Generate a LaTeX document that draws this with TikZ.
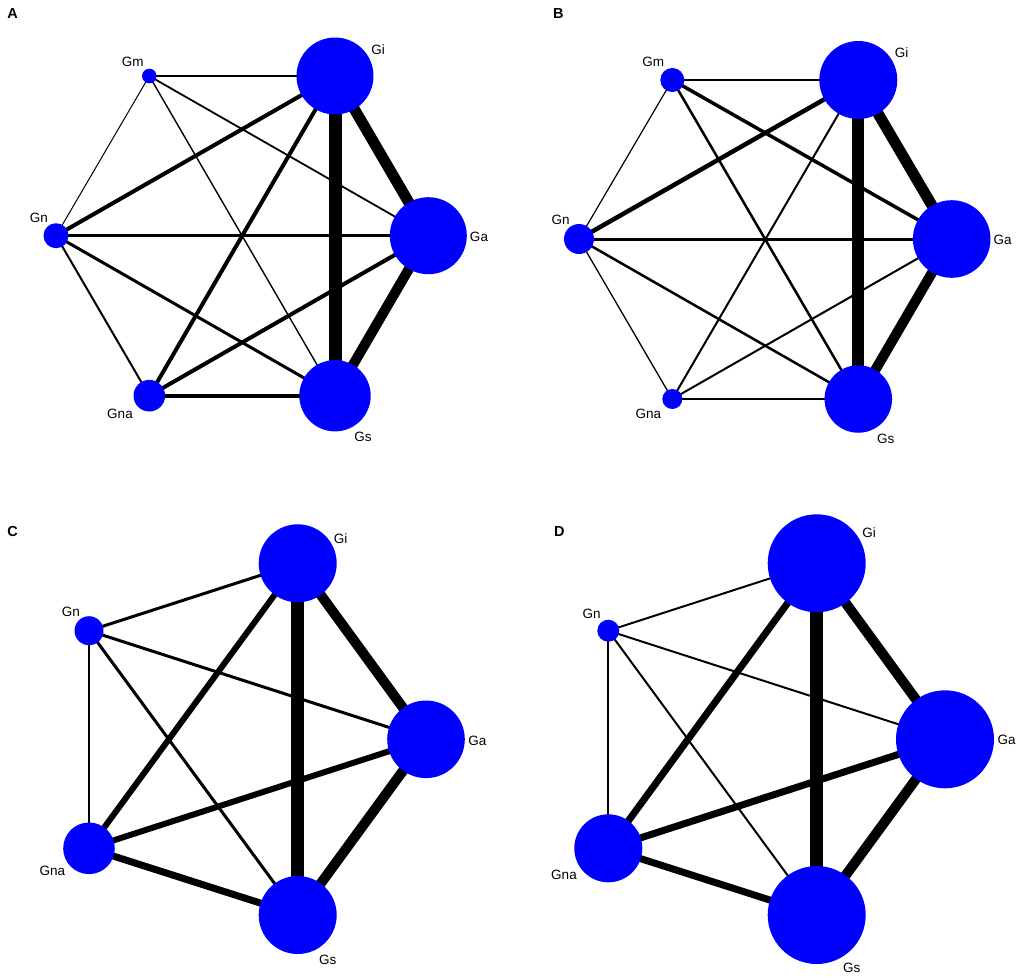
\documentclass[tikz,border=0pt]{standalone}
\usepackage{fontspec}
\setmainfont{Liberation Sans}
\usetikzlibrary{backgrounds}
\definecolor{nodeblue}{RGB}{0,0,255}
\tikzset{
  gnode/.style={circle,fill=nodeblue,draw=none,inner sep=0pt,minimum size=#1},
  glabel/.style={font=\fontsize{13.5}{15}\selectfont,inner sep=0pt,anchor=center},
  plabel/.style={font=\fontsize{14.5}{16}\selectfont\bfseries,inner sep=0pt,anchor=center},
  gedge/.style={draw=black,line width=#1}
}
\begin{document}
\begin{tikzpicture}[x=1pt,y=-1pt]
\useasboundingbox (0,0) rectangle (1021,978);
\begin{scope}[on background layer]
\fill[white] (0,0) rectangle (1021,978);
\end{scope}
% ---------------- Panel A ----------------
\node[plabel] (pA) at (12.7,14) {A};
\node[gnode=14.6pt] (aGm) at (149.3,76) {};
\node[gnode=77pt] (aGi) at (335,76) {};
\node[gnode=25pt] (aGn) at (56,235.7) {};
\node[gnode=77pt] (aGa) at (428.3,235.7) {};
\node[gnode=31.6pt] (aGna) at (149.3,395.7) {};
\node[gnode=71.4pt] (aGs) at (335,395.7) {};
\node[glabel] (laGm) at (132.7,62.3) {Gm};
\node[glabel] (laGi) at (378,50) {Gi};
\node[glabel] (laGn) at (39,218) {Gn};
\node[glabel] (laGa) at (479,237) {Ga};
\node[glabel] (laGna) at (120,414) {Gna};
\node[glabel] (laGs) at (363,437) {Gs};
\begin{scope}[on background layer]
\draw[gedge=2.3pt] (aGm.center) -- (aGi.center);
\draw[gedge=1pt] (aGm.center) -- (aGn.center);
\draw[gedge=1.8pt] (aGm.center) -- (aGa.center);
\draw[gedge=1.4pt] (aGm.center) -- (aGs.center);
\draw[gedge=4pt] (aGi.center) -- (aGn.center);
\draw[gedge=11pt] (aGi.center) -- (aGa.center);
\draw[gedge=13pt] (aGi.center) -- (aGs.center);
\draw[gedge=4pt] (aGi.center) -- (aGna.center);
\draw[gedge=2.8pt] (aGn.center) -- (aGa.center);
\draw[gedge=3pt] (aGn.center) -- (aGs.center);
\draw[gedge=2pt] (aGn.center) -- (aGna.center);
\draw[gedge=10pt] (aGa.center) -- (aGs.center);
\draw[gedge=4pt] (aGa.center) -- (aGna.center);
\draw[gedge=3.8pt] (aGna.center) -- (aGs.center);
\end{scope}
% ---------------- Panel B ----------------
\node[plabel] (pB) at (558.3,14) {B};
\node[gnode=24pt] (bGm) at (672.3,80) {};
\node[gnode=78pt] (bGi) at (858.3,80) {};
\node[gnode=30pt] (bGn) at (579,239) {};
\node[gnode=77.6pt] (bGa) at (951.7,239) {};
\node[gnode=20pt] (bGna) at (672.3,399) {};
\node[gnode=67.5pt] (bGs) at (858.3,399) {};
\node[glabel] (lbGm) at (653.3,62) {Gm};
\node[glabel] (lbGi) at (901.7,53) {Gi};
\node[glabel] (lbGn) at (560.7,220) {Gn};
\node[glabel] (lbGa) at (1002.7,240) {Ga};
\node[glabel] (lbGna) at (648.3,414) {Gna};
\node[glabel] (lbGs) at (885.7,439) {Gs};
\begin{scope}[on background layer]
\draw[gedge=2.5pt] (bGm.center) -- (bGi.center);
\draw[gedge=1.2pt] (bGm.center) -- (bGn.center);
\draw[gedge=3.5pt] (bGm.center) -- (bGa.center);
\draw[gedge=2.5pt] (bGm.center) -- (bGs.center);
\draw[gedge=4.5pt] (bGi.center) -- (bGn.center);
\draw[gedge=11pt] (bGi.center) -- (bGa.center);
\draw[gedge=12pt] (bGi.center) -- (bGs.center);
\draw[gedge=2pt] (bGi.center) -- (bGna.center);
\draw[gedge=3pt] (bGn.center) -- (bGa.center);
\draw[gedge=2.5pt] (bGn.center) -- (bGs.center);
\draw[gedge=1.3pt] (bGn.center) -- (bGna.center);
\draw[gedge=10pt] (bGa.center) -- (bGs.center);
\draw[gedge=2pt] (bGa.center) -- (bGna.center);
\draw[gedge=2pt] (bGna.center) -- (bGs.center);
\end{scope}
% ---------------- Panel C ----------------
\node[plabel] (pC) at (12.7,531.7) {C};
\node[gnode=78pt] (cGi) at (297.7,563.3) {};
\node[gnode=29pt] (cGn) at (89,630.7) {};
\node[gnode=77.6pt] (cGa) at (426,739.3) {};
\node[gnode=51.6pt] (cGna) at (89,848.3) {};
\node[gnode=78pt] (cGs) at (297.7,915) {};
\node[glabel] (lcGi) at (340.7,539) {Gi};
\node[glabel] (lcGn) at (71,611.7) {Gn};
\node[glabel] (lcGa) at (477.3,740.7) {Ga};
\node[glabel] (lcGna) at (52.3,870.7) {Gna};
\node[glabel] (lcGs) at (327.7,960) {Gs};
\begin{scope}[on background layer]
\draw[gedge=3pt] (cGn.center) -- (cGi.center);
\draw[gedge=3pt] (cGn.center) -- (cGa.center);
\draw[gedge=3pt] (cGn.center) -- (cGs.center);
\draw[gedge=2.5pt] (cGn.center) -- (cGna.center);
\draw[gedge=6pt] (cGi.center) -- (cGna.center);
\draw[gedge=10pt] (cGi.center) -- (cGa.center);
\draw[gedge=13pt] (cGi.center) -- (cGs.center);
\draw[gedge=6pt] (cGa.center) -- (cGna.center);
\draw[gedge=10pt] (cGa.center) -- (cGs.center);
\draw[gedge=7pt] (cGna.center) -- (cGs.center);
\end{scope}
% ---------------- Panel D ----------------
\node[plabel] (pD) at (559.3,531.7) {D};
\node[gnode=98pt] (dGi) at (816.7,563.3) {};
\node[gnode=22pt] (dGn) at (608.3,630.7) {};
\node[gnode=98pt] (dGa) at (945,739.3) {};
\node[gnode=68pt] (dGna) at (608.3,848.3) {};
\node[gnode=98pt] (dGs) at (816.7,915) {};
\node[glabel] (ldGi) at (869,532.7) {Gi};
\node[glabel] (ldGn) at (591.7,614) {Gn};
\node[glabel] (ldGa) at (1006.7,740) {Ga};
\node[glabel] (ldGna) at (564,875) {Gna};
\node[glabel] (ldGs) at (851.7,968.3) {Gs};
\begin{scope}[on background layer]
\draw[gedge=2pt] (dGn.center) -- (dGi.center);
\draw[gedge=2pt] (dGn.center) -- (dGa.center);
\draw[gedge=2pt] (dGn.center) -- (dGs.center);
\draw[gedge=2pt] (dGn.center) -- (dGna.center);
\draw[gedge=7pt] (dGi.center) -- (dGna.center);
\draw[gedge=10pt] (dGi.center) -- (dGa.center);
\draw[gedge=13pt] (dGi.center) -- (dGs.center);
\draw[gedge=7pt] (dGa.center) -- (dGna.center);
\draw[gedge=10pt] (dGa.center) -- (dGs.center);
\draw[gedge=7pt] (dGna.center) -- (dGs.center);
\end{scope}
\end{tikzpicture}
\end{document}
